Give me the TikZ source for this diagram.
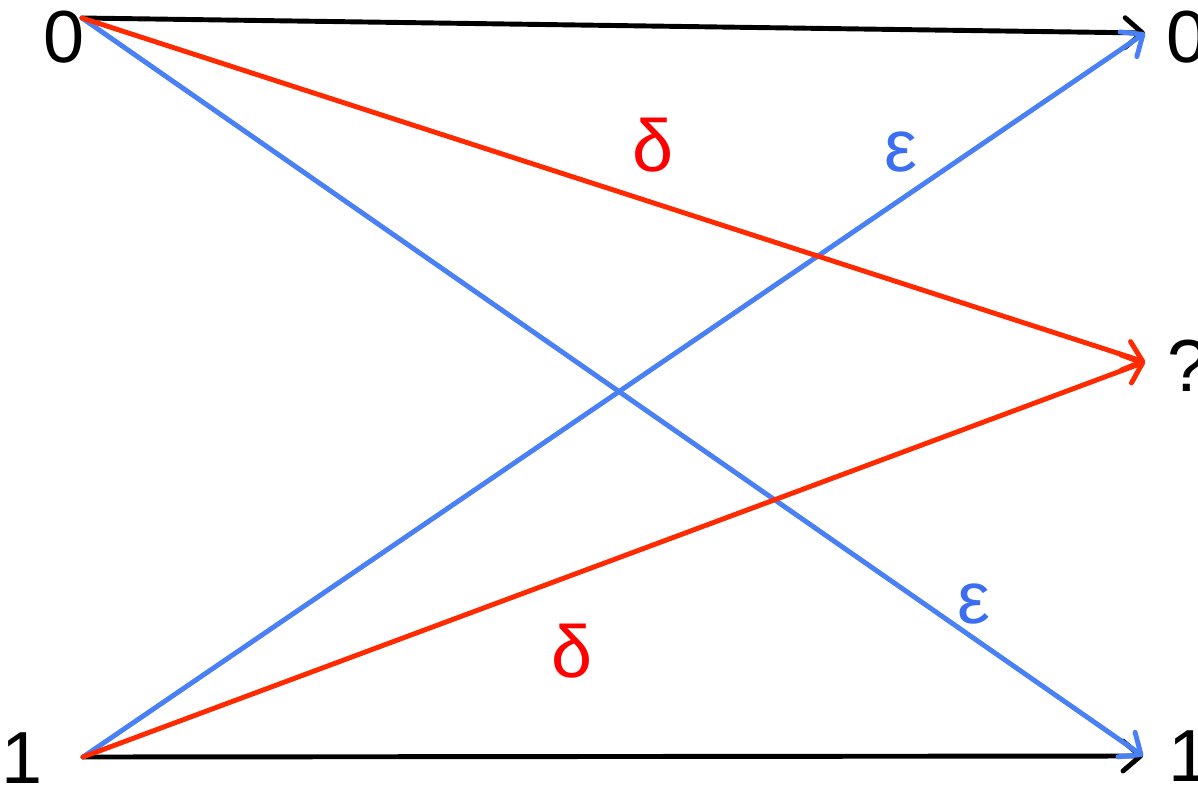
\documentclass[tikz,border=0pt]{standalone}
\usepackage{fontspec}
\setmainfont{Liberation Sans}
\usepackage{xcolor}
\usetikzlibrary{arrows.meta}
\definecolor{chred}{HTML}{FF2A00}
\definecolor{chblue}{HTML}{4A80F5}
\definecolor{lblred}{HTML}{FF0000}
\definecolor{lblblue}{HTML}{3B6EF0}

\begin{document}
\begin{tikzpicture}[
  x=0.02cm, y=-0.02cm,
  link/.style={draw=#1, line width=2.8pt, line cap=round,
    -{Straight Barb[length=10pt, width=17pt, line cap=round, line join=round]}},
  sym/.style={inner sep=0pt, font=\fontsize{42}{42}\selectfont},
  prob/.style={inner sep=0pt, text=#1, font=\fontsize{42}{42}\selectfont},
]
  \useasboundingbox (0,0) rectangle (1198,788);
  % inputs and outputs
  \node[sym] (in0) at (64,37) {0};
  \node[sym] (in1) at (22,758) {1};
  \node[sym, anchor=west] (out0) at (1166,37) {0};
  \node[sym, anchor=west] (outq) at (1167,366) {?};
  \node[sym, anchor=west] (out1) at (1168,756) {1};
  % line ends
  \coordinate (s0) at (82,18);
  \coordinate (s1) at (83,757);
  \coordinate (t0) at (1145,33);
  \coordinate (tq) at (1145,362);
  \coordinate (t1) at (1143,756);
  % channel
  \draw[link=black] (s0) -- (t0);
  \draw[link=black] (s1) -- (t1);
  \draw[link=chblue] (s0) -- (t1);
  \draw[link=chblue] (s1) -- (t0);
  \draw[link=chred] (s0) -- (tq);
  \draw[link=chred] (s1) -- (tq);
  % probabilities
  \node[prob=lblred] (d0) at (653,145) {δ};
  \node[prob=lblblue] (e0) at (901,152) {ε};
  \node[prob=lblblue] (e1) at (974,604) {ε};
  \node[prob=lblred] (d1) at (572,651) {δ};
\end{tikzpicture}
\end{document}
